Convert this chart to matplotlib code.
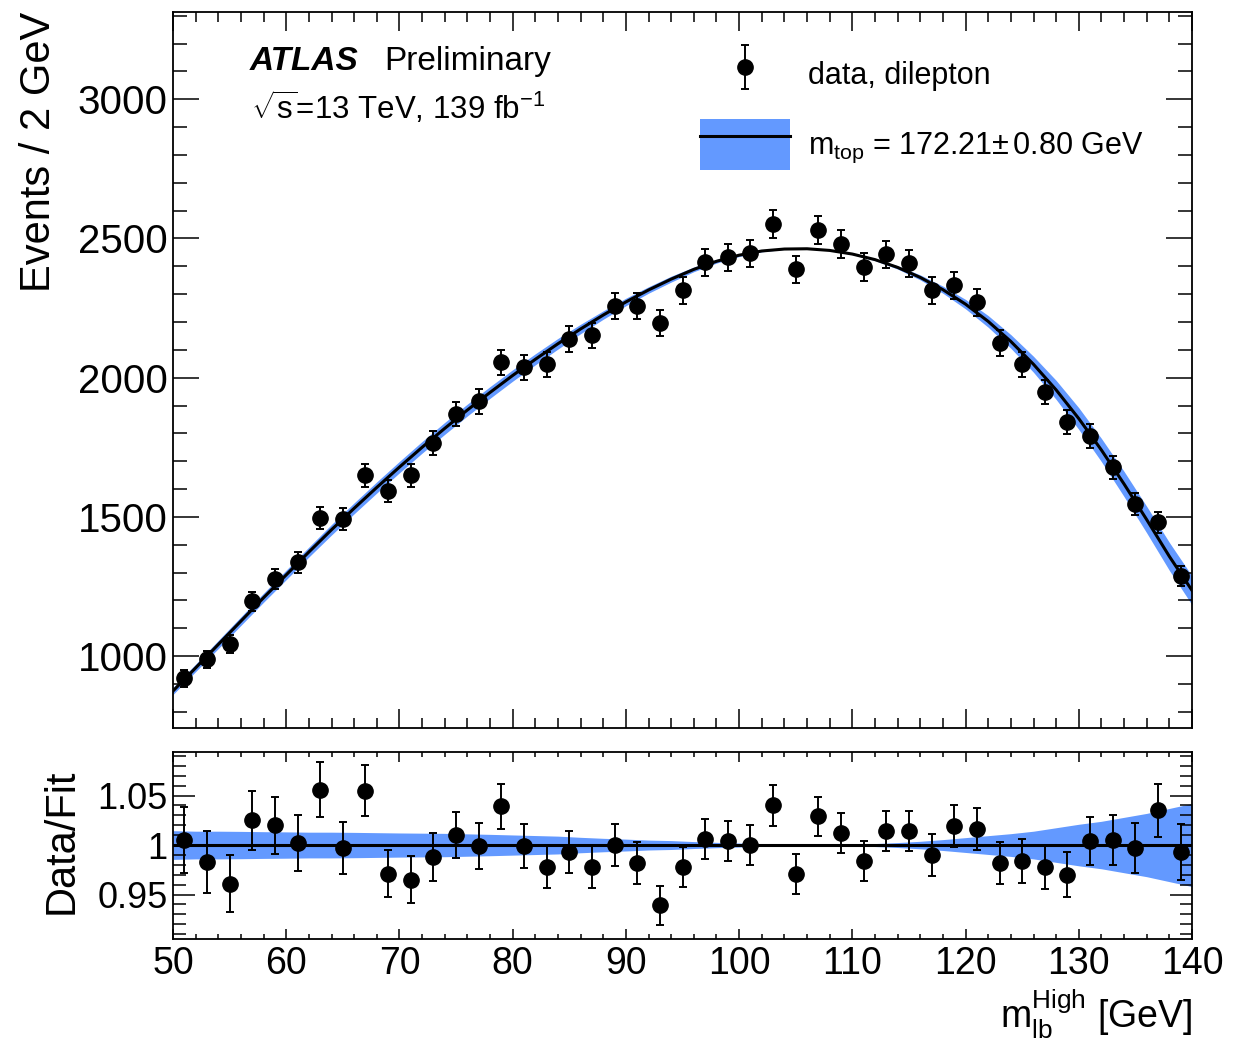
"""
m_lb^High distribution in the dilepton channel with the template fit
result and its uncertainty band, plus a Data/Fit ratio panel.
"""

import matplotlib
matplotlib.use("Agg")
import matplotlib.pyplot as plt
from matplotlib.patches import Patch
from matplotlib.lines import Line2D
from matplotlib.container import ErrorbarContainer
from matplotlib.legend_handler import HandlerErrorbar
from matplotlib.ticker import MultipleLocator
import numpy as np

# ── style ──────────────────────────────────────────────────────────────────────
plt.rcParams["font.family"] = ["Liberation Sans", "DejaVu Sans"]
plt.rcParams["mathtext.fontset"] = "custom"
plt.rcParams["mathtext.rm"] = "Liberation Sans"
plt.rcParams["mathtext.it"] = "Liberation Sans:italic"
plt.rcParams["mathtext.bf"] = "Liberation Sans:bold"

BAND_COLOR = "#6399ff"

# ── data ───────────────────────────────────────────────────────────────────────
bin_centers = [51, 53, 55, 57, 59, 61, 63, 65, 67, 69, 71, 73, 75, 77, 79,
               81, 83, 85, 87, 89, 91, 93, 95, 97, 99, 101, 103, 105, 107, 109,
               111, 113, 115, 117, 119, 121, 123, 125, 127, 129, 131, 133, 135,
               137, 139]
data_counts = [921, 989, 1043, 1197, 1276, 1337, 1495, 1492, 1650, 1592, 1650,
               1765, 1869, 1915, 2055, 2037, 2048, 2138, 2152, 2257, 2257, 2195,
               2314, 2414, 2432, 2447, 2551, 2389, 2529, 2479, 2397, 2443, 2411,
               2314, 2332, 2271, 2124, 2048, 1948, 1840, 1790, 1679, 1546, 1481,
               1287]
data_errors = [30, 31, 32, 35, 36, 37, 39, 39, 41, 40, 41, 42, 43, 44, 45,
               45, 45, 46, 46, 48, 48, 47, 48, 49, 49, 49, 51, 49, 50, 50,
               49, 49, 49, 48, 48, 48, 46, 45, 44, 43, 42, 41, 39, 38, 36]

ratio_values = [1.005, 0.983, 0.961, 1.025, 1.020, 1.002, 1.056, 0.997, 1.055,
                0.971, 0.965, 0.988, 1.010, 0.999, 1.039, 0.999, 0.978, 0.993,
                0.978, 1.000, 0.982, 0.939, 0.978, 1.006, 1.004, 1.000, 1.040,
                0.971, 1.029, 1.012, 0.984, 1.014, 1.014, 0.990, 1.019, 1.016,
                0.982, 0.984, 0.978, 0.970, 1.004, 1.005, 0.997, 1.035, 0.993]
ratio_errors = [0.033, 0.031, 0.029, 0.030, 0.029, 0.028, 0.028, 0.026, 0.026,
                0.024, 0.024, 0.024, 0.023, 0.023, 0.023, 0.022, 0.021, 0.021,
                0.021, 0.021, 0.021, 0.020, 0.020, 0.020, 0.020, 0.020, 0.021,
                0.020, 0.020, 0.020, 0.020, 0.020, 0.020, 0.021, 0.021, 0.021,
                0.021, 0.022, 0.022, 0.023, 0.024, 0.025, 0.025, 0.027, 0.028]

# fit curve and its relative uncertainty (m_top +- 0.80 GeV)
fit_x = [50, 52, 54, 56, 58, 60, 62, 64, 66, 68, 70, 72, 74, 76, 78, 80,
         82, 84, 86, 88, 90, 92, 94, 96, 98, 100, 102, 104, 106, 108, 110,
         112, 114, 116, 118, 120, 122, 124, 126, 128, 130, 132, 134, 136,
         138, 140]
fit_y = [875, 958, 1042, 1126, 1210, 1292, 1374, 1454, 1531, 1606, 1679,
         1750, 1818, 1884, 1947, 2008, 2066, 2122, 2175, 2225, 2272, 2315,
         2354, 2389, 2418, 2440, 2455, 2462, 2463, 2457, 2444, 2424, 2396,
         2360, 2316, 2264, 2202, 2130, 2048, 1956, 1853, 1740, 1618, 1490,
         1358, 1236]
fit_rel_unc = [0.0145, 0.014, 0.014, 0.0138, 0.0135, 0.0133, 0.013, 0.013,
               0.0128, 0.0125, 0.0122, 0.012, 0.0118, 0.0113, 0.0108, 0.0102,
               0.0096, 0.009, 0.0078, 0.0068, 0.006, 0.005, 0.0045, 0.0035,
               0.0027, 0.002, 0.0012, 0.0005, 0.0, 0.0003, 0.0008, 0.0015,
               0.0025, 0.0038, 0.0055, 0.0075, 0.0095, 0.0115, 0.014, 0.0175,
               0.021, 0.024, 0.028, 0.032, 0.037, 0.042]

fit_x = np.array(fit_x, dtype=float)
fit_y = np.array(fit_y, dtype=float)
rel = np.array(fit_rel_unc)

# ── figure layout ──────────────────────────────────────────────────────────────
fig = plt.figure(figsize=(12.49, 10.39), dpi=100)
ax_main  = fig.add_axes([0.1385, 0.2993, 0.8159, 0.6891])
ax_ratio = fig.add_axes([0.1385, 0.0962, 0.8159, 0.1800])

# main panel
ax_main.fill_between(fit_x, fit_y * (1 - rel), fit_y * (1 + rel),
                     color=BAND_COLOR, linewidth=0, zorder=1)
ax_main.plot(fit_x, fit_y, color="black", linewidth=2.2, zorder=2)
data_cont = ax_main.errorbar(bin_centers, data_counts, yerr=data_errors,
                             fmt="o", color="black", markersize=11,
                             elinewidth=1.4, capsize=3, capthick=1.4, zorder=3)

ax_main.set_xlim(50, 140)
ax_main.set_ylim(742, 3313)
ax_main.set_ylabel("Events / 2 GeV", fontsize=30, loc="top")
ax_main.yaxis.set_label_coords(-0.112, 1.0)
ax_main.tick_params(axis="x", labelbottom=False)

ax_main.text(0.075, 0.931, "ATLAS", transform=ax_main.transAxes,
             fontsize=24, fontweight="bold", fontstyle="italic", va="center")
ax_main.text(0.207, 0.931, "Preliminary", transform=ax_main.transAxes,
             fontsize=24, va="center")
ax_main.text(0.077, 0.866, r"$\sqrt{\mathrm{s}}$=13 TeV, 139 fb$^{-1}$",
             transform=ax_main.transAxes, fontsize=22.5, va="center")

band_handle = (Patch(facecolor=BAND_COLOR, edgecolor="none"),
               Line2D([], [], color="black", linewidth=2.2))
ax_main.legend([data_cont, band_handle],
               ["data, dilepton",
                r"m$_{\mathrm{top}}$ = 172.21$\pm\,$0.80 GeV"],
               handler_map={ErrorbarContainer: HandlerErrorbar(yerr_size=0.73)},
               loc="upper left", bbox_to_anchor=(0.517, 0.948),
               frameon=False, fontsize=22, handlelength=2.95, handleheight=2.2,
               handletextpad=0.6, labelspacing=0.6, borderpad=0,
               borderaxespad=0)

# ratio panel
ax_ratio.fill_between(fit_x, 1 - rel, 1 + rel, color=BAND_COLOR,
                      linewidth=0, zorder=1)
ax_ratio.axhline(1.0, color="black", linewidth=2.2, zorder=2)
ax_ratio.errorbar(bin_centers, ratio_values, yerr=ratio_errors, fmt="o",
                  color="black", markersize=11, elinewidth=1.4, capsize=3,
                  capthick=1.4, zorder=3)
ax_ratio.set_xlim(50, 140)
ax_ratio.set_ylim(0.905, 1.094)
ax_ratio.set_yticks([0.95, 1.0, 1.05])
ax_ratio.set_yticklabels(["0.95", "1", "1.05"])
ax_ratio.set_ylabel("Data/Fit", fontsize=30)
ax_ratio.yaxis.set_label_coords(-0.09, 0.52)
ax_ratio.set_xlabel(r"m$_{\mathrm{lb}}^{\mathrm{High}}$ [GeV]", fontsize=27,
                    loc="right")
ax_ratio.xaxis.set_label_coords(1.0, -0.26)

# ── ROOT-like ticks ────────────────────────────────────────────────────────────
for ax in (ax_main, ax_ratio):
    ax.xaxis.set_major_locator(MultipleLocator(10))
    ax.xaxis.set_minor_locator(MultipleLocator(2))
    ax.tick_params(which="both", direction="in", top=True, right=True,
                   width=1.1, pad=5)
    ax.tick_params(axis="x", labelsize=27)
    for sp in ax.spines.values():
        sp.set_linewidth(1.3)

ax_main.yaxis.set_major_locator(MultipleLocator(500))
ax_main.yaxis.set_minor_locator(MultipleLocator(100))
ax_main.tick_params(axis="y", which="major", length=19, labelsize=29, pad=4)
ax_main.tick_params(axis="y", which="minor", length=10)
ax_main.tick_params(axis="x", which="major", length=14)
ax_main.tick_params(axis="x", which="minor", length=7)

ax_ratio.yaxis.set_minor_locator(MultipleLocator(0.01))
ax_ratio.tick_params(axis="y", which="major", length=16, labelsize=26, pad=4)
ax_ratio.tick_params(axis="y", which="minor", length=9)
ax_ratio.tick_params(axis="x", which="major", length=7)
ax_ratio.tick_params(axis="x", which="minor", length=3.5)

fig.savefig("out.png", dpi=100)
